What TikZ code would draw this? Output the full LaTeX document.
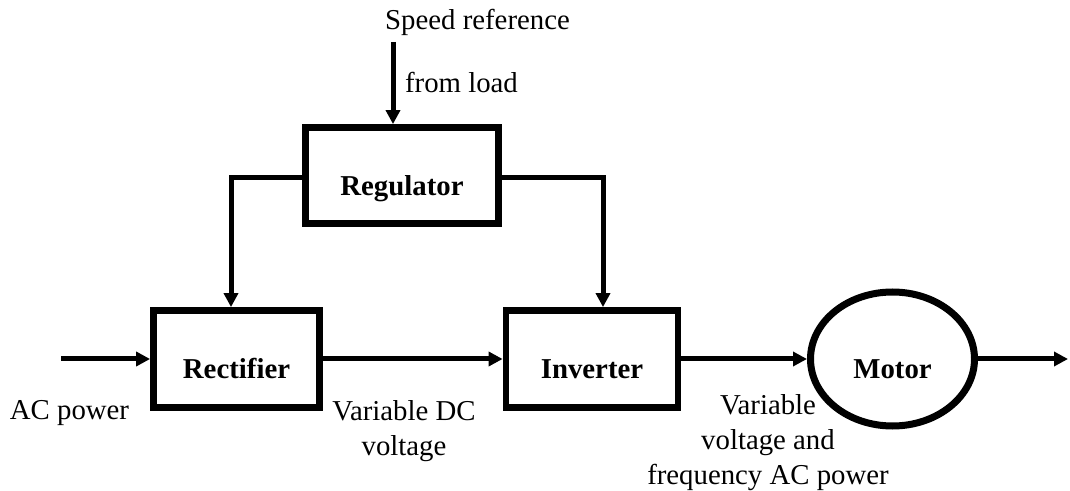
\documentclass[tikz,border=0pt]{standalone}
\usepackage{fontspec}
\setmainfont{Liberation Serif}
\usetikzlibrary{positioning, arrows.meta, shapes.geometric}

\begin{document}
\begin{tikzpicture}[
    x=0.5pt, y=-0.5pt,
    font=\fontsize{14.4}{17.5}\selectfont,
    box/.style={draw, rectangle, line width=3.4pt, minimum width=86pt, minimum height=48.5pt, font=\fontsize{14.4}{17.5}\selectfont\bfseries, text height=20pt, text depth=0pt},
    arr/.style={-{Triangle[length=7pt, width=7pt]}, line width=2.5pt},
    lbl/.style={align=center}
]
    \useasboundingbox (0,0) rectangle (1070,491);

    \node[box, minimum width=96.5pt, minimum height=48pt] (reg) at (402,175.5) {Regulator};
    \node[box, minimum width=83pt] (rect) at (236.5,359) {Rectifier};
    \node[box] (inv) at (592,359) {Inverter};
    \node[ellipse, draw, line width=3.5pt, minimum width=82pt, minimum height=67pt, font=\fontsize{14.4}{17.5}\selectfont\bfseries, text height=20pt, text depth=0pt] (motor) at (892.5,359) {Motor};

    \node (spdl) at (477.5,22) {Speed reference};
    \node[anchor=west] (fromload) at (398,83) {from load};
    \node (acl) at (69.5,413) {AC power};
    \node[lbl] (dcl) at (404,431) {Variable DC\\voltage};
    \node[lbl] (acout) at (768,443) {Variable\\voltage and\\frequency AC power};

    \coordinate (spd) at (393,42);
    \coordinate (acin) at (61,359);
    \coordinate (shaft) at (1068,359);

    \draw[arr] (spd) -- (spd |- reg.north);
    \draw[arr] ([yshift=-1.25pt]reg.west) -| ([xshift=-2.75pt]rect.north);
    \draw[arr] ([yshift=-1.25pt]reg.east) -| ([xshift=5.5pt]inv.north);
    \draw[arr] (acin) -- (rect.west);
    \draw[arr] (rect) -- (inv);
    \draw[arr] (inv) -- (motor);
    \draw[arr] (motor) -- (shaft);
\end{tikzpicture}
\end{document}
